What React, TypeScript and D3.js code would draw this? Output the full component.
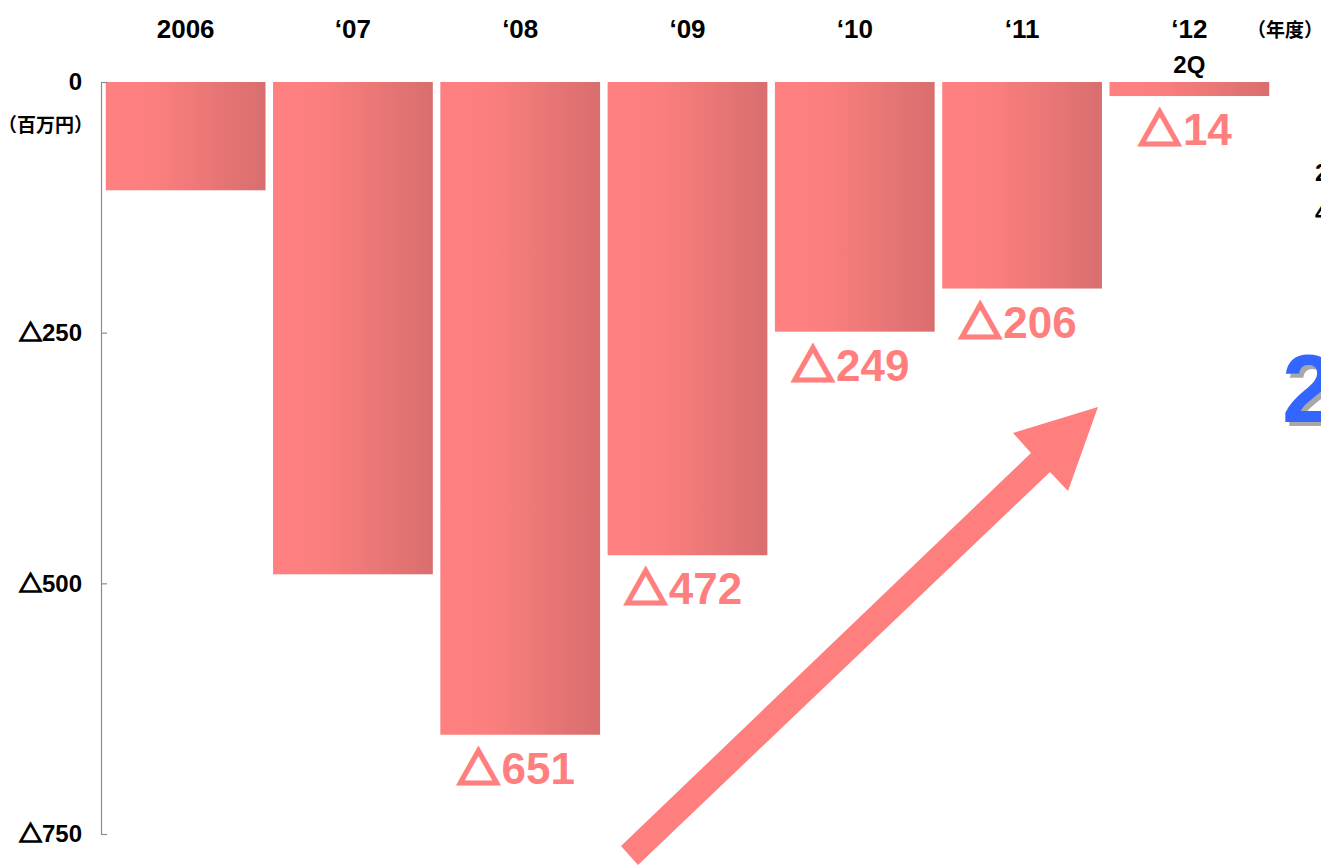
import React, { useEffect, useRef } from "react";
import * as d3 from "d3";

const categories = ["2006", "‘07", "‘08", "‘09", "‘10", "‘11", "‘12"];
const subLabels = ["", "", "", "", "", "", "2Q"];
const values = [-108, -491, -651, -472, -249, -206, -14];
const valueLabels = ["", "491", "651", "472", "249", "206", "14"];
const showValueLabel = [false, false, true, true, true, true, true];
const yTicks = [0, -250, -500, -750];

const W = 1321;
const H = 866;

export default function App() {
  const ref = useRef<SVGSVGElement | null>(null);

  useEffect(() => {
    const svg = d3.select(ref.current);
    svg.selectAll("*").remove();

    const x = d3
      .scaleBand<string>()
      .domain(categories)
      .range([102, 1273])
      .paddingInner(0.045)
      .paddingOuter(0.0225);
    const y = d3.scaleLinear().domain([0, -750]).range([82, 834]);

    const defs = svg.append("defs");
    const grad = defs
      .append("linearGradient")
      .attr("id", "barGrad")
      .attr("x1", "0%")
      .attr("x2", "100%")
      .attr("y1", "0%")
      .attr("y2", "0%");
    grad.append("stop").attr("offset", "0%").attr("stop-color", "#FF8080");
    grad.append("stop").attr("offset", "30%").attr("stop-color", "#FC7F7F");
    grad.append("stop").attr("offset", "100%").attr("stop-color", "#D96E6E");

    const shadow = defs.append("filter").attr("id", "txtShadow");
    shadow
      .append("feDropShadow")
      .attr("dx", 4)
      .attr("dy", 4)
      .attr("stdDeviation", 0.5)
      .attr("flood-color", "#A8A8A8")
      .attr("flood-opacity", 1);

    const font = "'Liberation Sans', Arial, 'Noto Sans CJK JP', sans-serif";
    const cjk = "'Noto Sans CJK JP', 'Liberation Sans', sans-serif";

    // bars
    svg
      .append("g")
      .selectAll("rect")
      .data(values)
      .join("rect")
      .attr("x", (_, i) => x(categories[i])!)
      .attr("width", x.bandwidth())
      .attr("y", y(0))
      .attr("height", (d) => y(d) - y(0))
      .attr("fill", "url(#barGrad)");

    // axis
    const axis = d3
      .axisLeft(y)
      .tickValues(yTicks)
      .tickSizeInner(-6)
      .tickSizeOuter(0)
      .tickPadding(19)
      .tickFormat(() => "");
    const ag = svg.append("g").attr("transform", "translate(101,0)").call(axis);
    ag.select(".domain").attr("stroke", "#8c8c8c").attr("stroke-width", 1.2);
    ag.selectAll(".tick line").attr("stroke", "#8c8c8c").attr("stroke-width", 1.2);
    ag.selectAll<SVGTextElement, number>(".tick text")
      .attr("fill", "#000")
      .attr("font-family", font)
      .attr("font-weight", "bold")
      .attr("font-size", 24)
      .each(function (d) {
        const t = d3.select(this);
        t.text(null);
        if (d !== 0) {
          t.append("tspan")
            .attr("font-family", cjk)
            .attr("font-size", 23)
            .attr("stroke", "#000")
            .attr("stroke-width", 1.6)
            .text("△");
        }
        t.append("tspan").text(String(Math.abs(d)));
      });

    svg
      .append("text")
      .attr("x", 93)
      .attr("y", 132)
      .attr("text-anchor", "end")
      .attr("font-family", cjk)
      .attr("font-weight", "bold")
      .attr("font-size", 19)
      .text("（百万円）");

    // category labels
    const cg = svg.append("g");
    cg.selectAll("text.cat")
      .data(categories)
      .join("text")
      .attr("class", "cat")
      .attr("x", (d) => x(d)! + x.bandwidth() / 2)
      .attr("y", 38)
      .attr("text-anchor", "middle")
      .attr("font-family", font)
      .attr("font-weight", "bold")
      .attr("font-size", 26)
      .text((d) => d);
    cg.selectAll("text.sub")
      .data(subLabels)
      .join("text")
      .attr("class", "sub")
      .attr("x", (_, i) => x(categories[i])! + x.bandwidth() / 2)
      .attr("y", 73)
      .attr("text-anchor", "middle")
      .attr("font-family", font)
      .attr("font-weight", "bold")
      .attr("font-size", 24)
      .text((d) => d);

    svg
      .append("text")
      .attr("x", 1247)
      .attr("y", 37)
      .attr("font-family", cjk)
      .attr("font-weight", "bold")
      .attr("font-size", 19)
      .text("（年度）");

    // value labels
    const vl = svg
      .append("g")
      .selectAll("text")
      .data(values)
      .join("text")
      .attr("x", (_, i) => x(categories[i])! + x.bandwidth() / 2 - 4)
      .attr("y", (d) => y(d) + 49)
      .attr("text-anchor", "middle")
      .attr("font-family", font)
      .attr("font-weight", "bold")
      .attr("font-size", 44)
      .attr("fill", "#FF7F7F");
    vl.each(function (_, i) {
      if (!showValueLabel[i]) return;
      const t = d3.select(this);
      t.append("tspan")
        .attr("font-family", cjk)
        .attr("font-size", 42)
        .attr("stroke", "#FF7F7F")
        .attr("stroke-width", 3.2)
        .attr("stroke-linejoin", "miter")
        .text("△");
      t.append("tspan").attr("dx", 2).text(valueLabels[i]);
    });

    // arrow annotation
    const arrowPts: [number, number][] = [
      [621, 846],
      [1031, 453],
      [1013, 433],
      [1098, 407],
      [1068, 491],
      [1050, 472],
      [638, 865],
    ];
    svg
      .append("path")
      .attr("d", d3.line()(arrowPts) + "Z")
      .attr("fill", "#FF7F7F");

    // right-edge cropped annotation text
    svg
      .append("text")
      .attr("x", 1282)
      .attr("y", 422)
      .attr("font-family", font)
      .attr("font-weight", "bold")
      .attr("font-size", 96)
      .attr("fill", "#3366FF")
      .attr("filter", "url(#txtShadow)")
      .text("2");
    svg
      .append("text")
      .attr("x", 1315)
      .attr("y", 181)
      .attr("font-family", font)
      .attr("font-weight", "bold")
      .attr("font-size", 24)
      .text("2");
    svg
      .append("text")
      .attr("x", 1315)
      .attr("y", 221)
      .attr("font-family", font)
      .attr("font-weight", "bold")
      .attr("font-size", 24)
      .text("4");
  }, []);

  return (
    <svg
      ref={ref}
      width={W}
      height={H}
      style={{ position: "absolute", left: 0, top: 0, background: "#fff", overflow: "hidden" }}
    />
  );
}
